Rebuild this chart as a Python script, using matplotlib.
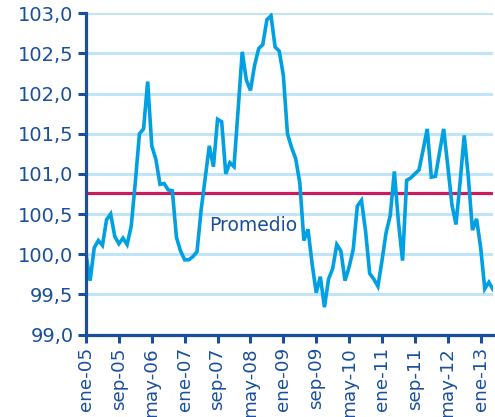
import matplotlib
matplotlib.use("Agg")
import matplotlib.pyplot as plt

# ---- data ----
values = [
    100.00, 99.67, 100.08, 100.17, 100.11, 100.43, 100.50, 100.22, 100.13, 100.20,
    100.12, 100.35, 100.90, 101.50, 101.56, 102.15, 101.35, 101.18, 100.87, 100.88,
    100.80, 100.79, 100.21, 100.04, 99.93, 99.93, 99.97, 100.03, 100.55, 100.95,
    101.35, 101.09, 101.68, 101.65, 101.00, 101.14, 101.09, 101.80, 102.52, 102.17,
    102.04, 102.35, 102.56, 102.61, 102.92, 102.97, 102.58, 102.53, 102.23, 101.50,
    101.33, 101.19, 100.89, 100.17, 100.31, 99.88, 99.52, 99.72, 99.34, 99.69,
    99.82, 100.12, 100.04, 99.67, 99.84, 100.06, 100.60, 100.67, 100.29, 99.76,
    99.69, 99.60, 99.92, 100.27, 100.48, 101.03, 100.40, 99.92, 100.92, 100.95,
    101.00, 101.05, 101.30, 101.56, 100.96, 100.97, 101.27, 101.56, 101.10, 100.62,
    100.37, 100.90, 101.48, 100.96, 100.30, 100.44, 100.08, 99.57, 99.65, 99.56,
]
promedio = 100.76
promedio_label = "Promedio"

tick_labels = ["ene-05", "sep-05", "may-06", "ene-07", "sep-07", "may-08", "ene-09",
               "sep-09", "may-10", "ene-11", "sep-11", "may-12", "ene-13"]
tick_step = 8
y_ticks = [99.0, 99.5, 100.0, 100.5, 101.0, 101.5, 102.0, 102.5, 103.0]
y_tick_labels = ["99,0", "99,5", "100,0", "100,5", "101,0", "101,5", "102,0", "102,5", "103,0"]

# ---- style ----
DARK = "#1a4f9e"
LINE = "#00a0e3"
AVG = "#cc1a5e"
GRID = "#bfe5f7"

plt.rcParams['font.family'] = ['DejaVu Sans']

fig = plt.figure(figsize=(4.95, 4.17), dpi=100)
ax = fig.add_axes([86 / 495, 1 - 334.5 / 417, (493 - 86) / 495, (334.5 - 13.3) / 417])

x = list(range(len(values)))

for yv in y_ticks[1:]:
    ax.axhline(yv, color=GRID, lw=2.2, zorder=1)

ax.plot(x, values, color=LINE, lw=2.6, zorder=3, solid_joinstyle='miter')
ax.axhline(promedio, color=AVG, lw=2.3, zorder=2)
ax.text(29.9, 100.36, promedio_label, color=DARK, fontsize=13.5, ha='left', va='center', zorder=4)

ax.set_xlim(0, len(values) - 1)
ax.set_ylim(99.0, 103.0)

ax.set_xticks(list(range(0, len(values), tick_step))[:len(tick_labels)])
ax.set_xticklabels(tick_labels, rotation=90, fontsize=13.2, color=DARK)
ax.set_yticks(y_ticks)
ax.set_yticklabels(y_tick_labels, fontsize=14, color=DARK)

for s in ['top', 'right']:
    ax.spines[s].set_visible(False)
for s in ['left', 'bottom']:
    ax.spines[s].set_color(DARK)
    ax.spines[s].set_linewidth(2.3)
    ax.spines[s].set_zorder(5)

ax.tick_params(axis='both', direction='out', length=6, width=2.2, color=DARK)
ax.tick_params(axis='x', pad=3)
ax.tick_params(axis='y', pad=3)

fig.savefig("out.png", dpi=100)
